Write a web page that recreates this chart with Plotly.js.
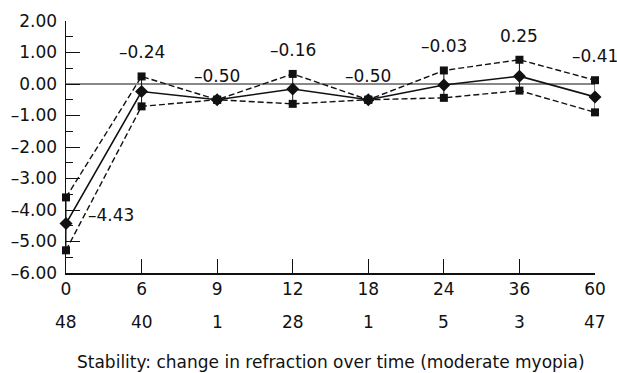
<!DOCTYPE html>
<html>
<head>
<meta charset="utf-8">
<script src="https://cdn.plot.ly/plotly-3.0.1.min.js"></script>
<style>html,body{margin:0;padding:0;background:#fff;}#chart{width:617px;height:373px;}</style>
</head>
<body>
<div id="chart"></div>
<script>
const categories = ['0','6','9','12','18','24','36','60'];
const eyeCounts = ['48','40','1','28','1','5','3','47'];
const meanVals = [-4.43,-0.24,-0.50,-0.16,-0.50,-0.03,0.25,-0.41];
const upperVals = [-3.6,0.24,-0.5,0.32,-0.5,0.43,0.77,0.12];
const lowerVals = [-5.28,-0.71,-0.5,-0.63,-0.5,-0.44,-0.21,-0.9];
const yTickVals = [2,1,0,-1,-2,-3,-4,-5,-6];
const yTickText = ['2.00','1.00','0.00','\u20131.00','\u20132.00','\u20133.00','\u20134.00','\u20135.00','\u20136.00'];
const titleText = 'Stability: change in refraction over time (moderate myopia)';

const FONT = 'DejaVu Sans, Verdana, sans-serif';
const FS = 17;
const fmt = v => (v < 0 ? '\u2013' : '') + Math.abs(v).toFixed(2);

const traces = [
  {x: categories, y: upperVals, mode: 'lines+markers', cliponaxis: false,
   line: {color: '#111', width: 1.4, dash: '6px,3px'},
   marker: {symbol: 'square', size: 8, color: '#111'}},
  {x: categories, y: lowerVals, mode: 'lines+markers', cliponaxis: false,
   line: {color: '#111', width: 1.4, dash: '6px,3px'},
   marker: {symbol: 'square', size: 8, color: '#111'}},
  {x: categories, y: meanVals, mode: 'lines+markers', cliponaxis: false,
   line: {color: '#111', width: 1.6},
   marker: {symbol: 'diamond', size: 10, color: '#111'},
   error_y: {type: 'data', symmetric: false,
     array: upperVals.map((u, i) => u - meanVals[i]),
     arrayminus: lowerVals.map((l, i) => meanVals[i] - l),
     color: '#111', thickness: 1, width: 0}}
];

const annotations = [];
categories.forEach((c, i) => {
  if (i === 0) {
    annotations.push({x: i, y: meanVals[i], xref: 'x', yref: 'y', text: fmt(meanVals[i]),
      showarrow: false, xanchor: 'left', xshift: 20, yshift: 9,
      font: {family: FONT, size: FS, color: '#111'}});
  } else {
    annotations.push({x: i, y: upperVals[i], xref: 'x', yref: 'y', text: fmt(meanVals[i]),
      showarrow: false, yshift: 24,
      font: {family: FONT, size: FS, color: '#111'}});
  }
  annotations.push({x: i, y: 0, xref: 'x', yref: 'paper', text: eyeCounts[i],
    showarrow: false, yanchor: 'middle', yshift: -49,
    font: {family: FONT, size: FS, color: '#111'}});
});
annotations.push({x: 0.5, y: 0, xref: 'paper', yref: 'paper', text: titleText,
  showarrow: false, yanchor: 'middle', yshift: -89,
  font: {family: FONT, size: FS, color: '#111'}});

const layout = {
  width: 617, height: 373,
  margin: {l: 66, r: 22, t: 21, b: 100},
  showlegend: false,
  paper_bgcolor: '#fff', plot_bgcolor: '#fff',
  font: {family: FONT, size: FS, color: '#111'},
  xaxis: {type: 'category', range: [0, 7], showgrid: false, zeroline: false,
    showline: true, linecolor: '#111', linewidth: 1.5,
    ticks: 'inside', ticklen: 14, tickcolor: '#111', tickwidth: 1,
    tickfont: {family: FONT, size: FS, color: '#111'}},
  yaxis: {range: [-6, 2], showgrid: false,
    zeroline: true, zerolinecolor: '#888', zerolinewidth: 2,
    showline: true, linecolor: '#111', linewidth: 1.5,
    tickmode: 'array', tickvals: yTickVals, ticktext: yTickText,
    ticks: 'inside', ticklen: 14, tickcolor: '#111', tickwidth: 1,
    ticklabelstandoff: 4,
    minor: {tick0: 0, dtick: 0.5, ticks: 'inside', ticklen: 7, tickcolor: '#111', tickwidth: 1},
    tickfont: {family: FONT, size: FS, color: '#111'}},
  annotations: annotations
};

Plotly.newPlot('chart', traces, layout, {staticPlot: true, displayModeBar: false});
</script>
</body>
</html>
